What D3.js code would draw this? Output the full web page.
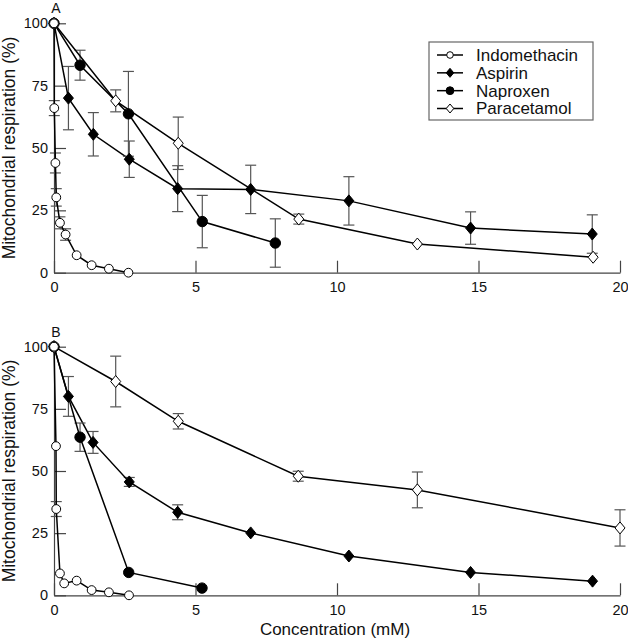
<!DOCTYPE html>
<html><head><meta charset="utf-8">
<script src="https://cdn.jsdelivr.net/npm/d3@7"></script>
<style>
body{margin:0;background:#fff;}
svg{display:block;font-family:"Liberation Sans",Arial,Helvetica,sans-serif;}
</style></head>
<body><svg id="c" width="628" height="640"></svg>
<script>
// ---- data ----
const xTicks = [0, 5, 10, 15, 20];
const yTicks = [0, 25, 50, 75, 100];
const drugNames = ["Indomethacin", "Aspirin", "Naproxen", "Paracetamol"];

// Panel A
const indoA_x = [0, 0.01, 0.05, 0.08, 0.21, 0.41, 0.8, 1.33, 1.94, 2.63];
const indoA_y = [100, 66, 44, 30.2, 20, 15.3, 7, 3, 1.6, 0];
const indoA_e = [0, 3, 4, 3.5, 2.4, 2.3, 0, 0, 0, 0];
const aspA_x = [0, 0.51, 1.39, 2.66, 4.37, 6.95, 10.42, 14.72, 19.02];
const aspA_y = [100, 70, 55.5, 45.5, 33.7, 33.4, 28.8, 17.9, 15.5];
const aspA_e = [0, 12.7, 8.7, 7.3, 9.2, 9.7, 9.7, 6.5, 7.7];
const napA_x = [0, 0.92, 2.63, 5.24, 7.82];
const napA_y = [100, 83.2, 63.7, 20.5, 11.9];
const napA_e = [0, 6, 17, 10.5, 9.7];
const parA_x = [0, 2.18, 4.39, 8.65, 12.84, 19.05];
const parA_y = [100, 68.9, 51.9, 21.5, 11.5, 6.2];
const parA_e = [0, 4.4, 10.5, 2, 0, 0];

// Panel B
const indoB_x = [0, 0.07, 0.08, 0.21, 0.36, 0.8, 1.33, 1.94, 2.65];
const indoB_y = [100, 60, 34.7, 8.8, 4.8, 5.9, 2.1, 1.2, 0];
const indoB_e = [0, 0, 3, 0, 0, 0, 0, 0, 0];
const aspB_x = [0, 0.51, 1.38, 2.66, 4.37, 6.95, 10.42, 14.72, 19.03];
const aspB_y = [100, 80, 61.5, 45.6, 33.4, 25.1, 15.8, 9.2, 5.7];
const aspB_e = [0, 8, 4.4, 1.8, 3, 0, 0, 0, 0];
const napB_x = [0, 0.92, 2.64, 5.23];
const napB_y = [100, 63.6, 9.2, 2.9];
const napB_e = [0, 5.7, 0, 0];
const parB_x = [0, 2.18, 4.39, 8.63, 12.84, 20];
const parB_y = [100, 86, 70, 47.9, 42.4, 27.1];
const parB_e = [0, 10.2, 3.1, 2, 7.2, 7.3];

// ---- drawing ----
const svg = d3.select("#c");
const x = d3.scaleLinear().domain([0, 20]).range([54, 620]);
const AX = "#444", ERR = "#555";

const markerStyle = {
  Indomethacin: {shape: "circle", fill: "#fff"},
  Aspirin: {shape: "diamond", fill: "#000"},
  Naproxen: {shape: "circle", fill: "#000"},
  Paracetamol: {shape: "diamond", fill: "#fff"}
};

function drawMarker(g, name, cx, cy, s) {
  const st = markerStyle[name];
  if (st.shape === "circle") {
    const r = (st.fill === "#fff" ? 4.4 : 5.2) * s;
    g.append("circle").attr("cx", cx).attr("cy", cy).attr("r", r)
      .attr("fill", st.fill).attr("stroke", "#000").attr("stroke-width", 1);
  } else {
    const w = 5 * s, h = 6 * s;
    g.append("path").attr("d", `M${cx},${cy - h}L${cx + w},${cy}L${cx},${cy + h}L${cx - w},${cy}Z`)
      .attr("fill", st.fill).attr("stroke", "#000").attr("stroke-width", 1);
  }
}

function panel(label, top, bottom, series) {
  const y = d3.scaleLinear().domain([0, 100]).range([bottom, top]);
  const g = svg.append("g");

  const xa = g.append("g").attr("transform", `translate(0,${bottom})`)
    .call(d3.axisBottom(x).tickValues(xTicks).tickSize(-12).tickSizeOuter(0).tickPadding(9).tickFormat(d3.format("d")));
  const ya = g.append("g").attr("transform", `translate(${x(0)},0)`)
    .call(d3.axisLeft(y).tickValues(yTicks).tickSize(-12).tickSizeOuter(0).tickPadding(6).tickFormat(d3.format("d")));
  [xa, ya].forEach(a => {
    a.selectAll("path,line").attr("stroke", AX).attr("stroke-width", 1.2);
    a.selectAll("text").attr("fill", "#111").attr("font-size", 14.5)
      .attr("font-family", '"Liberation Sans",Arial,sans-serif');
  });

  g.append("text").attr("x", 56).attr("y", top - 10).attr("text-anchor", "middle")
    .attr("font-size", 14).attr("fill", "#111").text(label);

  g.append("text").attr("transform", `translate(15,${(top + bottom) / 2}) rotate(-90)`)
    .attr("text-anchor", "middle").attr("font-size", 17.5).attr("fill", "#111")
    .text("Mitochondrial respiration (%)");

  const line = d3.line().x(d => x(d.x)).y(d => y(d.y));
  series.forEach(s => {
    const pts = s.xs.map((v, i) => ({x: v, y: s.ys[i], e: s.es[i]}));
    // error bars
    pts.filter(p => p.e > 0).forEach(p => {
      const px = x(p.x), y1 = y(p.y + p.e), y2 = y(p.y - p.e);
      g.append("line").attr("x1", px).attr("x2", px).attr("y1", y1).attr("y2", y2)
        .attr("stroke", ERR).attr("stroke-width", 1.2);
      [y1, y2].forEach(yy => g.append("line").attr("x1", px - 5.5).attr("x2", px + 5.5)
        .attr("y1", yy).attr("y2", yy).attr("stroke", ERR).attr("stroke-width", 1.2));
    });
    g.append("path").attr("d", line(pts)).attr("fill", "none")
      .attr("stroke", "#000").attr("stroke-width", 1.5);
  });
  series.forEach(s => {
    s.xs.forEach((v, i) => drawMarker(g, s.name, x(v), y(s.ys[i]), 1));
  });
}

panel("A", 23.3, 272.7, [
  {name: "Aspirin", xs: aspA_x, ys: aspA_y, es: aspA_e},
  {name: "Naproxen", xs: napA_x, ys: napA_y, es: napA_e},
  {name: "Paracetamol", xs: parA_x, ys: parA_y, es: parA_e},
  {name: "Indomethacin", xs: indoA_x, ys: indoA_y, es: indoA_e}
]);
panel("B", 346.7, 595.3, [
  {name: "Aspirin", xs: aspB_x, ys: aspB_y, es: aspB_e},
  {name: "Naproxen", xs: napB_x, ys: napB_y, es: napB_e},
  {name: "Paracetamol", xs: parB_x, ys: parB_y, es: parB_e},
  {name: "Indomethacin", xs: indoB_x, ys: indoB_y, es: indoB_e}
]);

// x-axis title
svg.append("text").attr("x", 335).attr("y", 635).attr("text-anchor", "middle")
  .attr("font-size", 17).attr("fill", "#111").text("Concentration (mM)");

// legend
const lg = svg.append("g");
lg.append("rect").attr("x", 429).attr("y", 42).attr("width", 164).attr("height", 78)
  .attr("fill", "#fff").attr("stroke", "#666").attr("stroke-width", 1.2);
const legY = d3.scalePoint().domain(drugNames).range([55, 108.5]);
drugNames.forEach(n => {
  const yy = legY(n);
  lg.append("line").attr("x1", 437).attr("x2", 463).attr("y1", yy).attr("y2", yy)
    .attr("stroke", "#000").attr("stroke-width", 1.5);
  drawMarker(lg, n, 450, yy, 0.75);
  lg.append("text").attr("x", 476).attr("y", yy).attr("dy", "0.35em")
    .attr("font-size", 17).attr("fill", "#111").text(n);
});
</script></body></html>
